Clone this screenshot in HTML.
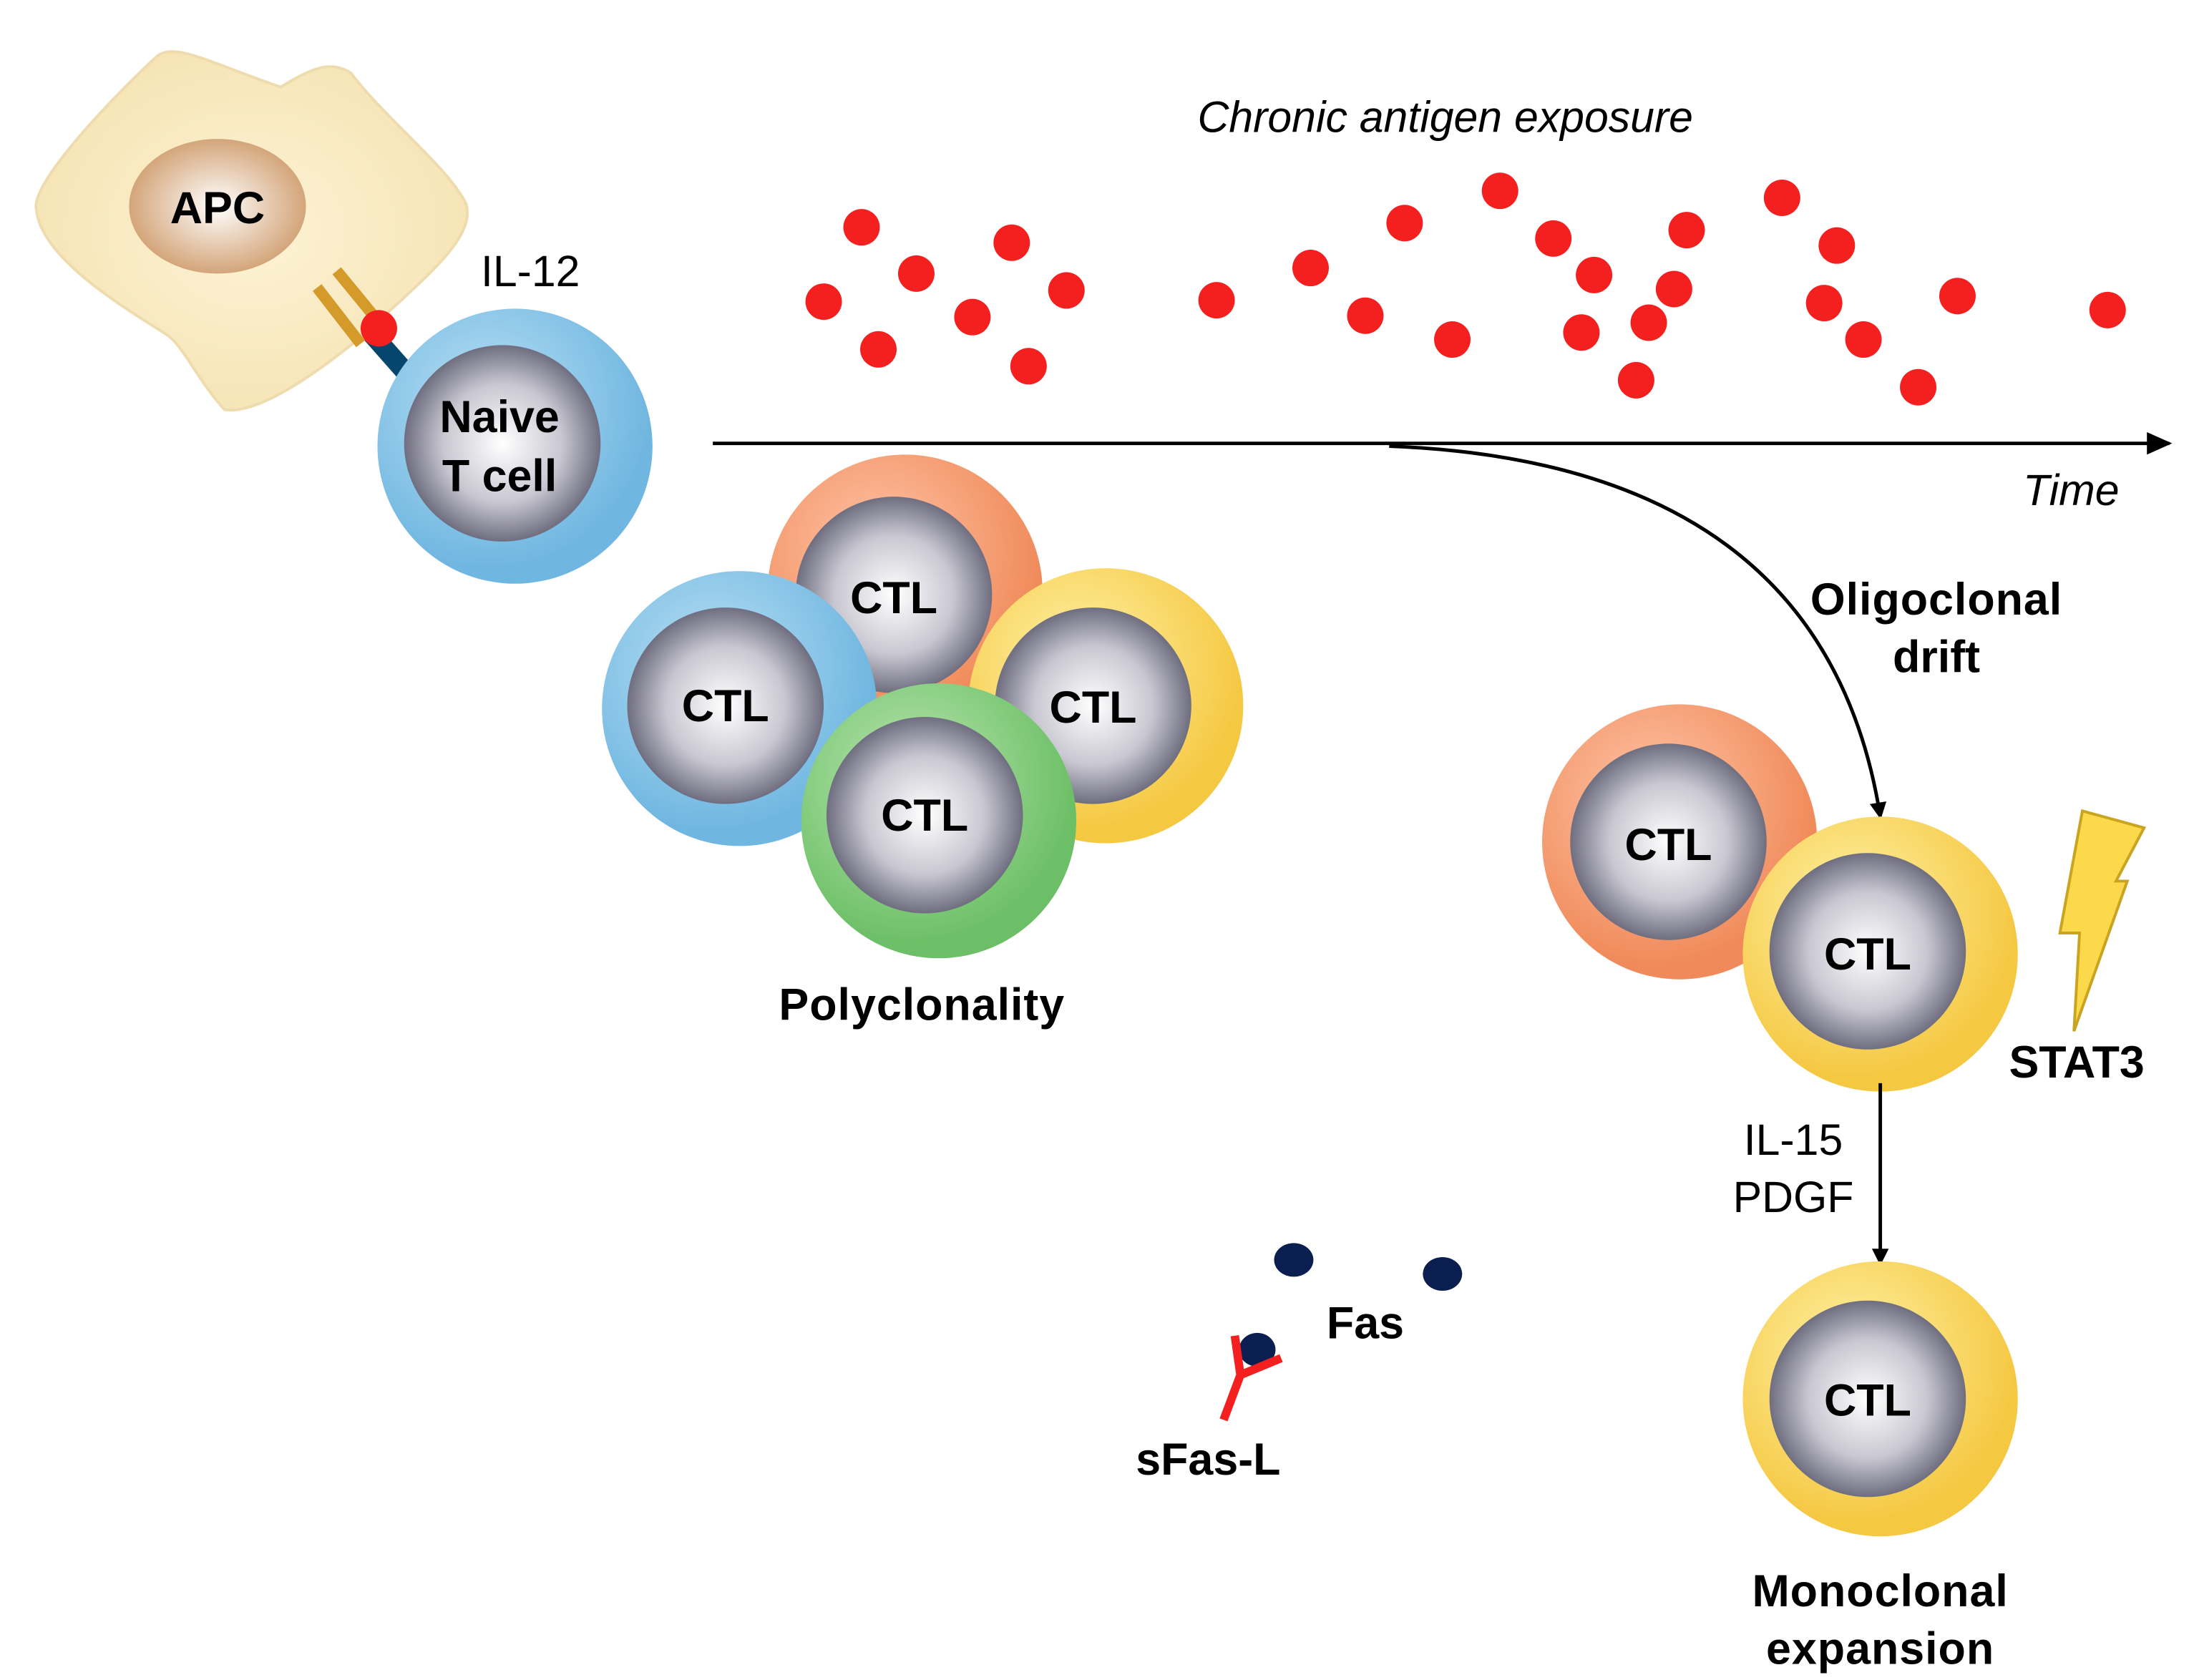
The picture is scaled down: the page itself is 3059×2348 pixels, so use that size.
<!DOCTYPE html>
<html><head><meta charset="utf-8"><style>html,body{margin:0;padding:0;background:#fff}svg{display:block}</style></head>
<body>
<svg width="3059" height="2348" viewBox="0 0 1560 1197.4" preserveAspectRatio="none" xmlns="http://www.w3.org/2000/svg" font-family="Liberation Sans, Arial, sans-serif">
<defs>
<radialGradient id="gin" cx="50%" cy="50%" r="50%"><stop offset="0" stop-color="#ffffff"/><stop offset="0.6" stop-color="#c9c8d2"/><stop offset="1" stop-color="#6f6e80"/></radialGradient>
<radialGradient id="gblue" cx="40%" cy="35%" r="60%"><stop offset="0" stop-color="#b9e0f5"/><stop offset="1" stop-color="#6fb6e0"/></radialGradient>
<radialGradient id="gor" cx="40%" cy="35%" r="60%"><stop offset="0" stop-color="#ffc6a8"/><stop offset="1" stop-color="#f08a5a"/></radialGradient>
<radialGradient id="gyel" cx="40%" cy="35%" r="60%"><stop offset="0" stop-color="#fff2a8"/><stop offset="1" stop-color="#f5c842"/></radialGradient>
<radialGradient id="ggr" cx="40%" cy="35%" r="60%"><stop offset="0" stop-color="#b9e6b0"/><stop offset="1" stop-color="#6cbf66"/></radialGradient>
<radialGradient id="gapc" cx="50%" cy="50%" r="50%"><stop offset="0" stop-color="#ffffff"/><stop offset="1" stop-color="#d4a57a"/></radialGradient>
<radialGradient id="gcell" cx="50%" cy="50%" r="60%"><stop offset="0" stop-color="#fdf3d6"/><stop offset="1" stop-color="#f5e2b0"/></radialGradient>
<marker id="ah" markerWidth="12" markerHeight="12" refX="10" refY="6" orient="auto" markerUnits="userSpaceOnUse"><path d="M0,0 L12,6 L0,12 Z" fill="#000"/></marker>
<marker id="ah2" markerWidth="18" markerHeight="16" refX="16" refY="8" orient="auto" markerUnits="userSpaceOnUse"><path d="M0,0 L18,8 L0,16 Z" fill="#000"/></marker>
</defs>
<!-- APC -->
<path d="M26,150 C20,130 90,60 112,40 C125,30 150,45 200,62 C220,50 235,42 250,52 C275,85 320,120 332,145 C340,170 300,200 260,238 C215,275 180,295 160,292 C140,270 130,245 118,238 C90,220 30,185 26,150 Z" fill="url(#gcell)" stroke="#efdcae" stroke-width="2"/>
<ellipse cx="155" cy="147" rx="63" ry="48" fill="url(#gapc)"/>
<text x="155" y="159" font-size="32" font-weight="bold" text-anchor="middle">APC</text>
<line x1="226" y1="205" x2="257" y2="245" stroke="#d49a2a" stroke-width="8"/>
<line x1="240" y1="193" x2="272" y2="232" stroke="#d49a2a" stroke-width="8"/>
<line x1="265" y1="238" x2="295" y2="272" stroke="#06466e" stroke-width="14"/>
<circle cx="270" cy="234" r="13" fill="#f42020"/>
<text x="378" y="204" font-size="31" text-anchor="middle">IL-12</text>
<!-- naive -->
<circle cx="367" cy="318" r="98" fill="url(#gblue)"/>
<circle cx="358" cy="316" r="70" fill="url(#gin)"/>
<text x="356" y="308" font-size="32" font-weight="bold" text-anchor="middle">Naive</text>
<text x="356" y="350" font-size="32" font-weight="bold" text-anchor="middle">T cell</text>
<!-- axis -->
<line x1="508" y1="316" x2="1546" y2="316" stroke="#000" stroke-width="2.5" marker-end="url(#ah2)"/>
<text x="1476" y="360" font-size="31" font-style="italic" text-anchor="middle">Time</text>
<text x="1030" y="94" font-size="31" font-style="italic" text-anchor="middle">Chronic antigen exposure</text>
<g fill="#f42020">
<circle cx="614" cy="162" r="13"/><circle cx="587" cy="215" r="13"/><circle cx="653" cy="195" r="13"/><circle cx="626" cy="249" r="13"/><circle cx="721" cy="173" r="13"/><circle cx="693" cy="226" r="13"/><circle cx="760" cy="207" r="13"/><circle cx="733" cy="261" r="13"/>
<circle cx="867" cy="214" r="13"/><circle cx="934" cy="191" r="13"/><circle cx="973" cy="225" r="13"/><circle cx="1001" cy="159" r="13"/><circle cx="1035" cy="242" r="13"/><circle cx="1069" cy="136" r="13"/><circle cx="1107" cy="170" r="13"/><circle cx="1136" cy="196" r="13"/><circle cx="1127" cy="237" r="13"/><circle cx="1166" cy="271" r="13"/><circle cx="1175" cy="230" r="13"/><circle cx="1193" cy="206" r="13"/><circle cx="1202" cy="164" r="13"/>
<circle cx="1270" cy="141" r="13"/><circle cx="1309" cy="175" r="13"/><circle cx="1300" cy="216" r="13"/><circle cx="1328" cy="242" r="13"/><circle cx="1367" cy="276" r="13"/><circle cx="1395" cy="211" r="13"/><circle cx="1502" cy="221" r="13"/>
</g>
<!-- polyclonal -->
<circle cx="645" cy="422" r="98" fill="url(#gor)"/><circle cx="637" cy="424" r="70" fill="url(#gin)"/><text x="637" y="437" font-size="32" font-weight="bold" text-anchor="middle">CTL</text>
<circle cx="527" cy="505" r="98" fill="url(#gblue)"/><circle cx="517" cy="503" r="70" fill="url(#gin)"/><text x="517" y="514" font-size="32" font-weight="bold" text-anchor="middle">CTL</text>
<circle cx="788" cy="503" r="98" fill="url(#gyel)"/><circle cx="779" cy="503" r="70" fill="url(#gin)"/><text x="779" y="515" font-size="32" font-weight="bold" text-anchor="middle">CTL</text>
<circle cx="669" cy="585" r="98" fill="url(#ggr)"/><circle cx="659" cy="581" r="70" fill="url(#gin)"/><text x="659" y="592" font-size="32" font-weight="bold" text-anchor="middle">CTL</text>
<text x="657" y="727" font-size="32" font-weight="bold" text-anchor="middle" letter-spacing="0.5">Polyclonality</text>
<!-- curve -->
<path d="M990,318 Q1300,330 1340,582" fill="none" stroke="#000" stroke-width="2.5" marker-end="url(#ah)"/>
<text x="1380" y="438" font-size="32" font-weight="bold" text-anchor="middle" letter-spacing="0.5">Oligoclonal</text>
<text x="1380" y="479" font-size="32" font-weight="bold" text-anchor="middle">drift</text>
<circle cx="1197" cy="600" r="98" fill="url(#gor)"/><circle cx="1189" cy="600" r="70" fill="url(#gin)"/><text x="1189" y="613" font-size="32" font-weight="bold" text-anchor="middle">CTL</text>
<circle cx="1340" cy="680" r="98" fill="url(#gyel)"/><circle cx="1331" cy="678" r="70" fill="url(#gin)"/><text x="1331" y="691" font-size="32" font-weight="bold" text-anchor="middle">CTL</text>
<path d="M1484,578 L1528,590 L1508,628 L1516,628 L1478,735 L1482,665 L1468,665 Z" fill="#fbd94a" stroke="#c9a420" stroke-width="2"/>
<text x="1480" y="768" font-size="32" font-weight="bold" text-anchor="middle">STAT3</text>
<line x1="1340" y1="772" x2="1340" y2="900" stroke="#000" stroke-width="2.5" marker-end="url(#ah)"/>
<text x="1278" y="823" font-size="31" text-anchor="middle">IL-15</text>
<text x="1278" y="864" font-size="31" text-anchor="middle">PDGF</text>
<circle cx="1340" cy="997" r="98" fill="url(#gyel)"/><circle cx="1331" cy="997" r="70" fill="url(#gin)"/><text x="1331" y="1009" font-size="32" font-weight="bold" text-anchor="middle">CTL</text>
<text x="1340" y="1145" font-size="32" font-weight="bold" text-anchor="middle" letter-spacing="0.5">Monoclonal</text>
<text x="1340" y="1186" font-size="32" font-weight="bold" text-anchor="middle" letter-spacing="0.5">expansion</text>
<!-- Fas -->
<g fill="#0a1f50"><ellipse cx="922" cy="898" rx="14" ry="12"/><ellipse cx="1028" cy="908" rx="14" ry="12"/><ellipse cx="896" cy="962" rx="13" ry="12"/></g>
<path d="M880,952 L884,980 M913,968 L884,980 L872,1012" fill="none" stroke="#f42020" stroke-width="6"/>
<text x="973" y="954" font-size="32" font-weight="bold" text-anchor="middle">Fas</text>
<text x="861" y="1051" font-size="32" font-weight="bold" text-anchor="middle">sFas-L</text>
</svg>
</body></html>
